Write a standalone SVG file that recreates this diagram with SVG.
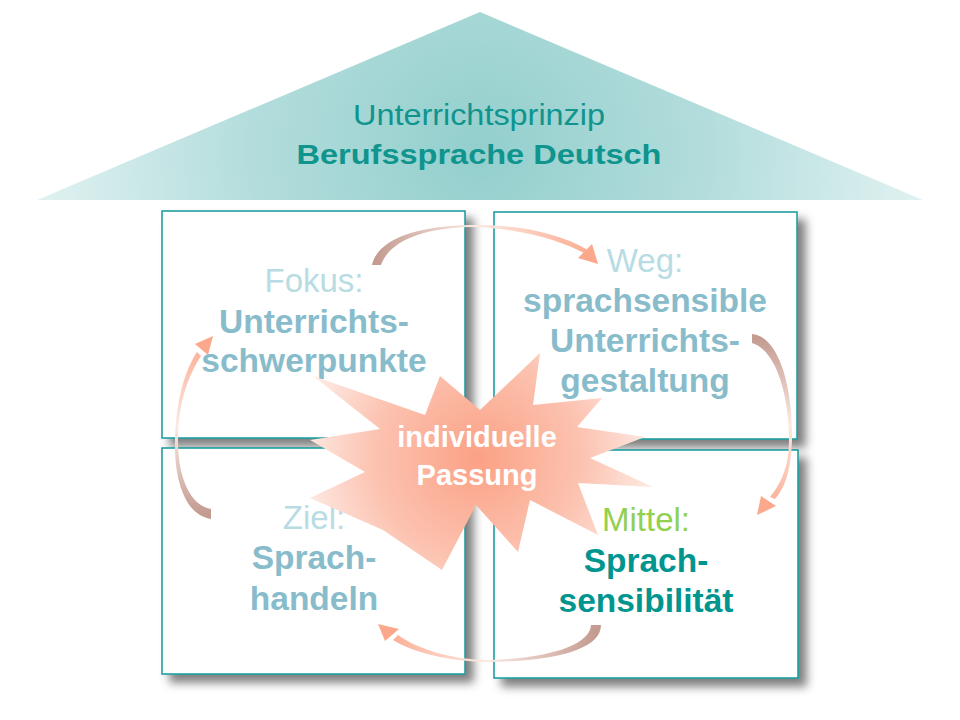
<svg xmlns="http://www.w3.org/2000/svg" width="960" height="720" viewBox="0 0 960 720">
<defs>
<radialGradient id="roofG" gradientUnits="userSpaceOnUse" cx="480" cy="150" r="460">
<stop offset="0" stop-color="#93cfcd"/>
<stop offset="0.5" stop-color="#b3dddc"/>
<stop offset="1" stop-color="#e4f3f3"/>
</radialGradient>
<radialGradient id="starG" gradientUnits="userSpaceOnUse" cx="478" cy="458" r="175">
<stop offset="0" stop-color="#fba185"/>
<stop offset="0.6" stop-color="#fcc3b1"/>
<stop offset="1" stop-color="#fde9e2"/>
</radialGradient>
<linearGradient id="a1" gradientUnits="userSpaceOnUse" x1="376" y1="265" x2="598" y2="262">
<stop offset="0" stop-color="#c49b90"/><stop offset="0.45" stop-color="#fbeae4"/><stop offset="1" stop-color="#fca88c"/>
</linearGradient>
<linearGradient id="a2" gradientUnits="userSpaceOnUse" x1="755" y1="338" x2="758" y2="514">
<stop offset="0" stop-color="#c49b90"/><stop offset="0.5" stop-color="#fbeae4"/><stop offset="1" stop-color="#fca88c"/>
</linearGradient>
<linearGradient id="a3" gradientUnits="userSpaceOnUse" x1="596" y1="625" x2="379" y2="624">
<stop offset="0" stop-color="#c49b90"/><stop offset="0.5" stop-color="#fbeae4"/><stop offset="1" stop-color="#fca88c"/>
</linearGradient>
<linearGradient id="a4" gradientUnits="userSpaceOnUse" x1="211" y1="514" x2="212" y2="337">
<stop offset="0" stop-color="#c49b90"/><stop offset="0.5" stop-color="#fbeae4"/><stop offset="1" stop-color="#fca88c"/>
</linearGradient>
<filter id="sh" x="-10%" y="-10%" width="130%" height="130%">
<feDropShadow dx="8" dy="8" stdDeviation="5" flood-color="#000" flood-opacity="0.5"/>
</filter>
</defs>
<style>
text{font-family:"Liberation Sans",Arial,sans-serif;text-anchor:middle}
.box{fill:#fff;stroke:#14999a;stroke-width:1.5}
.lab{font-size:33px;fill:#b8dce4}
.bt{font-size:33.5px;font-weight:bold;fill:#88bccb}
.roof{fill:#0f948e}
.star{font-size:29px;font-weight:bold;fill:#fff}
</style>
<rect width="960" height="720" fill="#fff"/>
<g id="roof">
<polygon points="480,12 923,200 37,200" fill="url(#roofG)"/>
<text class="roof" x="479" y="125" font-size="30" textLength="252" lengthAdjust="spacingAndGlyphs">Unterrichtsprinzip</text>
<text class="roof" x="479" y="164" font-size="28" font-weight="bold" textLength="365" lengthAdjust="spacingAndGlyphs">Berufssprache Deutsch</text>
</g>
<g id="fokus">
<rect class="box" x="162" y="211" width="303" height="227" filter="url(#sh)"/>
<text class="lab" x="314" y="292">Fokus:</text>
<text class="bt" x="314" y="333">Unterrichts-</text>
<text class="bt" x="314" y="372">schwerpunkte</text>
</g>
<g id="weg">
<rect class="box" x="494" y="212" width="303" height="227" filter="url(#sh)"/>
<text class="lab" x="645" y="272">Weg:</text>
<text class="bt" x="645" y="312">sprachsensible</text>
<text class="bt" x="645" y="352">Unterrichts-</text>
<text class="bt" x="645" y="392">gestaltung</text>
</g>
<g id="ziel">
<rect class="box" x="162" y="448" width="303" height="226" filter="url(#sh)"/>
<text class="lab" x="314" y="529">Ziel:</text>
<text class="bt" x="314" y="569">Sprach-</text>
<text class="bt" x="314" y="610">handeln</text>
</g>
<g id="mittel">
<rect class="box" x="494" y="450" width="304" height="228" filter="url(#sh)"/>
<text x="646" y="531" font-size="33" fill="#92d050">Mittel:</text>
<text x="646" y="572" font-size="33.5" font-weight="bold" fill="#00958f">Sprach-</text>
<text x="646" y="612" font-size="33.5" font-weight="bold" fill="#00958f">sensibilität</text>
</g>
<g id="connectors">
<path d="M372,265 C378,238 420,226 470,225 C520,224 560,234 586,249 L588,255 C560,240 520,228 470,227 C425,228 390,240 381,265 Z" fill="url(#a1)"/>
<polygon points="598,264 578,258 592,244" fill="#fca88c"/>
<path d="M752,334 C778,336 793,385 792,440 C791,470 785,488 775,499 L770,497 C780,485 789,468 789,440 C789,395 776,350 752,343 Z" fill="url(#a2)"/>
<polygon points="757,515 761,496 776,506" fill="#fca88c"/>
<path d="M601,625 C601,648 560,661 490,662 C450,662 412,652 393,640 L398,635 C416,648 450,660 490,660 C550,658 590,645 591,625 Z" fill="url(#a3)"/>
<polygon points="378,624 385,641 399,629" fill="#fca88c"/>
<path d="M211,519 C185,515 174,480 175,440 C176,400 185,370 197,352 L201,356 C190,373 178,400 178,440 C178,478 190,505 211,509 Z" fill="url(#a4)"/>
<polygon points="213,336 195,344 208,355" fill="#fca88c"/>
</g>
<g id="passung">
<polygon points="313,376 425,415 440,376 480,410 540,353 533,405 602,398 577,427 645,437 590,458 653,487 578,483 598,535 530,500 518,552 476,505 442,570 383,530 310,498 365,472 310,440 380,429" fill="url(#starG)"/>
<text class="star" x="477" y="447">individuelle</text>
<text class="star" x="477" y="485">Passung</text>
</g>
</svg>
